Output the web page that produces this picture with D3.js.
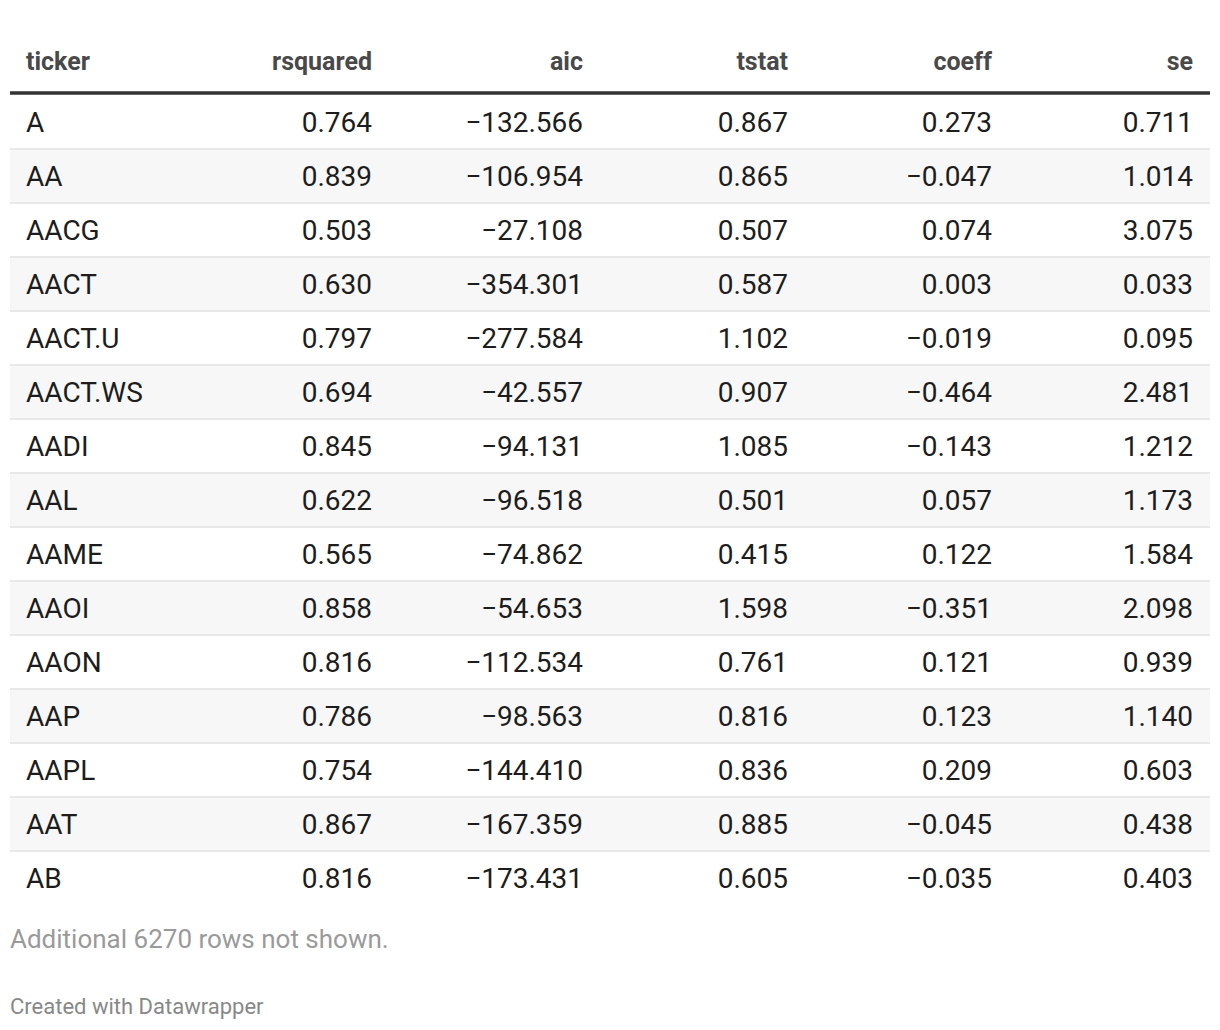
<!DOCTYPE html>
<html>
<head>
<meta charset="utf-8">
<script src="https://cdn.jsdelivr.net/npm/d3@7"></script>
<style>
  body { margin: 0; background: #fff; }
  svg text { font-family: Roboto, "Noto Sans", sans-serif; }
</style>
</head>
<body>
<div class="container"></div>
<script>
// table data
const columns = ["ticker", "rsquared", "aic", "tstat", "coeff", "se"];
const tickers = ["A", "AA", "AACG", "AACT", "AACT.U", "AACT.WS", "AADI", "AAL", "AAME", "AAOI", "AAON", "AAP", "AAPL", "AAT", "AB"];
const rsquared = [0.764, 0.839, 0.503, 0.630, 0.797, 0.694, 0.845, 0.622, 0.565, 0.858, 0.816, 0.786, 0.754, 0.867, 0.816];
const aic = [-132.566, -106.954, -27.108, -354.301, -277.584, -42.557, -94.131, -96.518, -74.862, -54.653, -112.534, -98.563, -144.410, -167.359, -173.431];
const tstat = [0.867, 0.865, 0.507, 0.587, 1.102, 0.907, 1.085, 0.501, 0.415, 1.598, 0.761, 0.816, 0.836, 0.885, 0.605];
const coeff = [0.273, -0.047, 0.074, 0.003, -0.019, -0.464, -0.143, 0.057, 0.122, -0.351, 0.121, 0.123, 0.209, -0.045, -0.035];
const se = [0.711, 1.014, 3.075, 0.033, 0.095, 2.481, 1.212, 1.173, 1.584, 2.098, 0.939, 1.140, 0.603, 0.438, 0.403];
const hiddenRows = 6270;

const width = 1220, height = 1030;
const left = 10, right = 1210;

const rows = tickers.map((t, i) => ({
  ticker: t, rsquared: rsquared[i], aic: aic[i], tstat: tstat[i], coeff: coeff[i], se: se[i]
}));

const fmt = d3.format(".3f");

const svg = d3.select(".container")
  .append("svg")
  .attr("width", width)
  .attr("height", height);

const y = d3.scaleBand().domain(tickers).range([95, 95 + 54 * tickers.length]);
const x = d3.scaleOrdinal().domain(columns).range([26, 372, 583, 788, 992, 1193]);

// striped rows
svg.selectAll("rect.stripe")
  .data(rows.filter((d, i) => i % 2 === 1))
  .enter()
  .append("rect")
  .attr("class", "stripe")
  .attr("x", left)
  .attr("width", right - left)
  .attr("y", d => y(d.ticker))
  .attr("height", y.bandwidth())
  .attr("fill", "#f7f7f7");

// row separators
svg.selectAll("line.sep")
  .data(rows.slice(0, -1))
  .enter()
  .append("line")
  .attr("class", "sep")
  .attr("x1", left).attr("x2", right)
  .attr("y1", d => y(d.ticker) + y.bandwidth())
  .attr("y2", d => y(d.ticker) + y.bandwidth())
  .attr("stroke", "#e8e8e8")
  .attr("stroke-width", 2);

// header
svg.selectAll("text.head")
  .data(columns)
  .enter()
  .append("text")
  .attr("class", "head")
  .attr("x", d => x(d))
  .attr("y", 70)
  .attr("text-anchor", d => d === "ticker" ? "start" : "end")
  .attr("font-size", 25)
  .attr("font-weight", 700)
  .attr("fill", "#494949")
  .text(d => d);

svg.append("line")
  .attr("x1", left).attr("x2", right)
  .attr("y1", 93).attr("y2", 93)
  .attr("stroke", "#333")
  .attr("stroke-width", 3.5);

// body cells
const rowG = svg.selectAll("g.row")
  .data(rows)
  .enter()
  .append("g")
  .attr("class", "row")
  .attr("transform", d => "translate(0," + (y(d.ticker) + y.bandwidth() / 2) + ")");

rowG.selectAll("text")
  .data(d => columns.map(c => ({ col: c, value: d[c] })))
  .enter()
  .append("text")
  .attr("x", d => x(d.col))
  .attr("dy", "0.36em")
  .attr("text-anchor", d => d.col === "ticker" ? "start" : "end")
  .attr("font-size", 28)
  .attr("fill", "#1d1d1d")
  .text(d => d.col === "ticker" ? d.value : fmt(d.value));

// notes
svg.append("text")
  .attr("x", left)
  .attr("y", 948)
  .attr("font-size", 26)
  .attr("fill", "#9a9a9a")
  .text("Additional " + hiddenRows + " rows not shown.");

svg.append("text")
  .attr("x", left)
  .attr("y", 1014)
  .attr("font-size", 22)
  .attr("fill", "#888")
  .text("Created with Datawrapper");
</script>
</body>
</html>
